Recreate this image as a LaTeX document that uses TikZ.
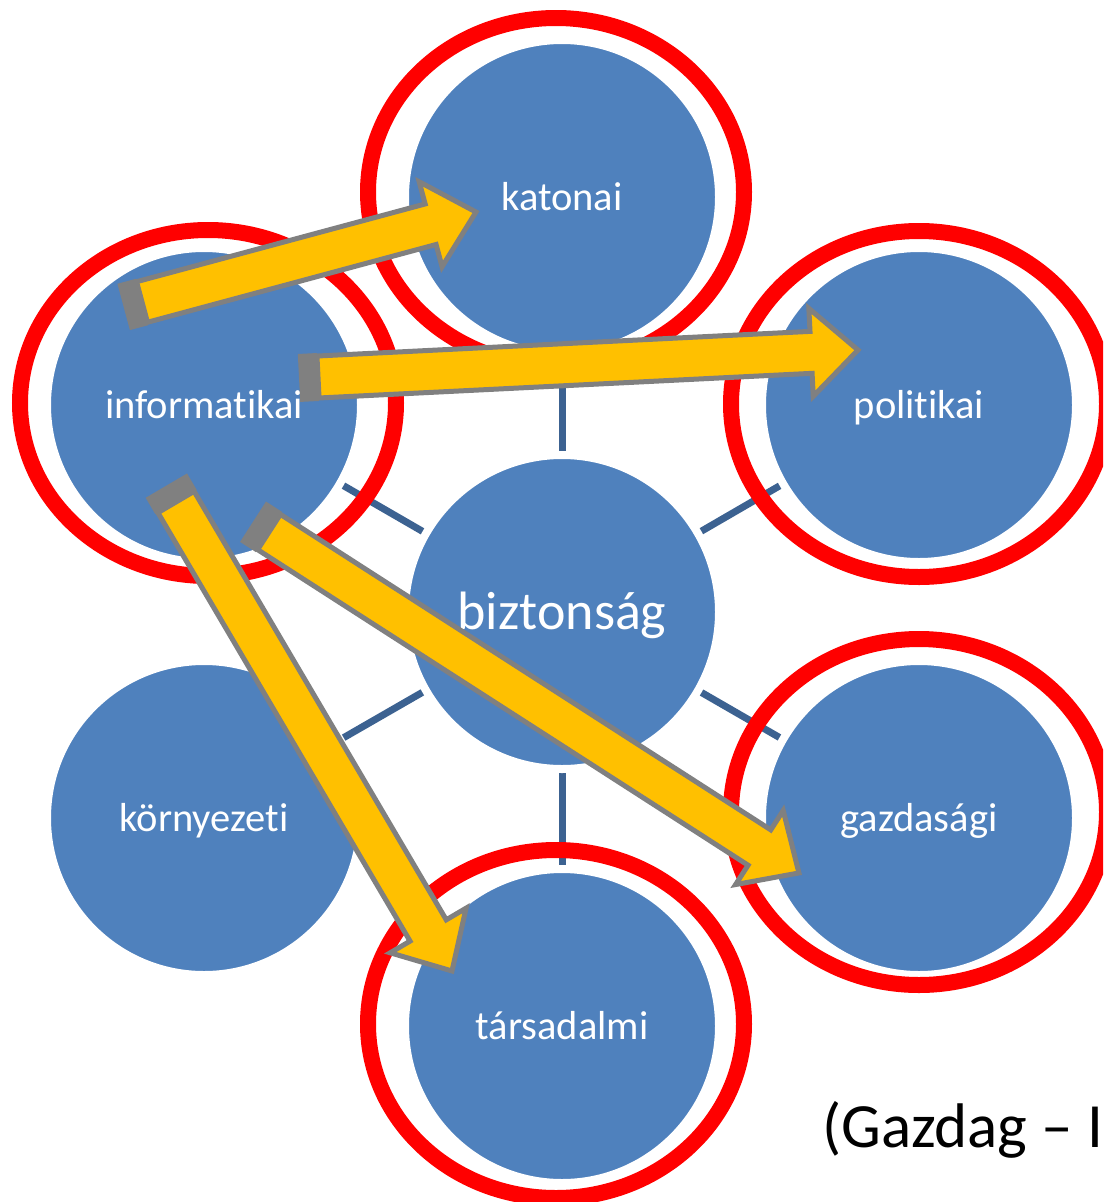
\documentclass[tikz,border=0pt]{standalone}
\usepackage{fontspec}
\setmainfont{Carlito}[Ligatures={NoCommon}]
\definecolor{sblue}{HTML}{4F81BD}
\definecolor{lineblue}{RGB}{60,98,145}
\definecolor{arrowyellow}{HTML}{FFC000}
\definecolor{arrowgray}{HTML}{808080}
\pgfdeclarelayer{bg}
\pgfsetlayers{bg,main}
\tikzset{
  bubble/.style={circle, fill=sblue, draw=white, line width=8pt, minimum size=314pt,
    inner sep=0pt, text=white, font=\fontsize{40.5}{48}\selectfont,
    text height=34pt, text depth=8pt},
  bigbubble/.style={bubble, font=\fontsize{54}{62}\selectfont, text height=45pt, text depth=11pt},
  ring/.style={draw=red, line width=16pt},
  spoke/.style={draw=lineblue, line width=7pt},
  blockarr/.style={fill=arrowyellow, draw=arrowgray, line width=5pt, line join=miter},
  arrback/.style={fill=arrowgray},
}
\newcommand\yarrow[5]{%
  \coordinate (#1-tail) at (#2,#3);
  \coordinate (#1-tip) at (#4,#5);
  \pgfmathsetmacro\baang{atan2(-(#5-#3),#4-#2)}%
  \pgfmathsetmacro\balen{veclen(#4-#2,#5-#3)}%
  \begin{scope}[shift={(#1-tail)}, rotate=\baang]
    \fill[arrback] (-19,-24) -- (0,-24) -- (0,24) -- (-19,24) -- cycle;
    \draw[blockarr] (0,-21) -- ({\balen-47},-21) -- ({\balen-47},-44) -- (\balen,0)
      -- ({\balen-47},44) -- ({\balen-47},21) -- (0,21) -- cycle;
  \end{scope}}
\begin{document}
\begin{tikzpicture}[x=1pt,y=-1pt]
\useasboundingbox (0,0) rectangle (1103,1202);
\clip (0,0) rectangle (1103,1202);
% bubbles
\node[bigbubble] (bizt) at (562,612) {biztonság};
\node[bubble] (katonai) at (562,197) {katonai};
\node[bubble] (politikai) at (919,405) {politikai};
\node[bubble] (gazdasagi) at (919,818) {gazdasági};
\node[bubble] (tarsadalmi) at (562,1026) {társadalmi};
\node[bubble] (kornyezeti) at (204,818) {környezeti};
\node[bubble] (informatikai) at (204,405) {informatikai};
% spokes
\begin{pgfonlayer}{bg}
  \fill[white] (0,0) rectangle (1103,1202);
  \foreach \n in {katonai,politikai,gazdasagi,tarsadalmi,kornyezeti,informatikai}
    \draw[spoke] (bizt.center) -- (\n.center);
\end{pgfonlayer}
% red rings
\draw[ring] (556,192) ellipse [x radius=188, y radius=174];
\draw[ring] (208,403) ellipse [x radius=188, y radius=173];
\draw[ring] (919,404) ellipse [x radius=188, y radius=173];
\draw[ring] (919,812) ellipse [x radius=188, y radius=173];
\draw[ring] (556,1024) ellipse [x radius=188, y radius=174];
% arrows
\yarrow{a1}{142}{302}{476}{212}
\yarrow{a2}{318}{377}{858}{350}
\yarrow{a3}{176}{502}{452}{971}
\yarrow{a4}{269}{532}{799}{873}
% source
\node[anchor=base west, inner sep=0pt, font=\fontsize{63}{70}\selectfont] (src) at (822,1147) {(Gazdag – I};
\end{tikzpicture}
\end{document}
